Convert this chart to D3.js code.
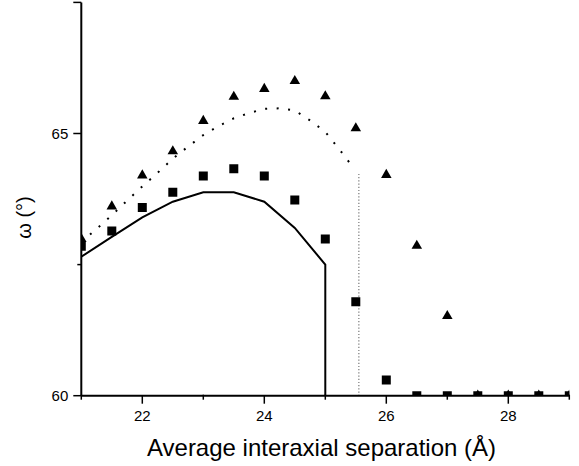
<!DOCTYPE html>
<html>
<head>
<meta charset="utf-8">
<script src="https://cdn.jsdelivr.net/npm/d3@7"></script>
<style>
  html, body { margin: 0; padding: 0; background: #fff; }
  svg { display: block; font-family: "Liberation Sans", Arial, Helvetica, sans-serif; }
</style>
</head>
<body>
<svg id="chart" width="579" height="466"></svg>
<script>
// ---- data ----
const markerX = [21, 21.5, 22, 22.5, 23, 23.5, 24, 24.5, 25, 25.5, 26, 26.5, 27, 27.5, 28, 28.5, 29];
const squareY = [62.85, 63.14, 63.59, 63.88, 64.19, 64.33, 64.19, 63.73, 62.99, 61.79, 60.30, 60, 60, 60, 60, 60, 60];
const triangleY = [62.99, 63.61, 64.20, 64.66, 65.24, 65.70, 65.85, 66.00, 65.71, 65.10, 64.21, 62.86, 61.52, 60, 60, 60, 60];

const solidX = [21, 21.5, 22, 22.5, 23, 23.5, 24, 24.5, 25, 25];
const solidY = [62.65, 63.03, 63.40, 63.70, 63.88, 63.88, 63.70, 63.20, 62.50, 60];

const dottedX = [21, 21.25, 21.5, 21.75, 22, 22.25, 22.5, 22.75, 23, 23.25, 23.5, 23.75, 24, 24.25, 24.5, 24.75, 25, 25.25, 25.47];
const dottedY = [62.93, 63.18, 63.44, 63.72, 63.99, 64.25, 64.52, 64.75, 64.97, 65.14, 65.29, 65.39, 65.47, 65.48, 65.44, 65.25, 65.03, 64.67, 64.33];

const dropX = [25.55, 25.55];
const dropY = [64.23, 60];

const xMajorTicks = [22, 24, 26, 28];
const xMinorTicks = [21, 23, 25, 27, 29];
const yMajorTicks = [60, 65];
const yMinorTicks = [62.5];
const yEndTicks = [67.5];

const xLabel = "Average interaxial separation (Å)";
const yLabel = "ω (°)";

// ---- layout ----
const svg = d3.select("#chart");
const mLeft = 81.3, mRight = 569.3, mTop = 2.4, mBottom = 395.7;
const x = d3.scaleLinear().domain([21, 29]).range([mLeft, mRight]);
const y = d3.scaleLinear().domain([60, 67.5]).range([mBottom, mTop]);

svg.append("defs").append("clipPath").attr("id", "plotclip")
  .append("rect").attr("x", mLeft).attr("y", mTop).attr("width", mRight - mLeft).attr("height", mBottom - mTop);

const plot = svg.append("g").attr("clip-path", "url(#plotclip)");

const line = d3.line().x(d => x(d[0])).y(d => y(d[1]));

// solid curve
plot.append("path")
  .datum(solidX.map((v, i) => [v, solidY[i]]))
  .attr("d", line).attr("fill", "none").attr("stroke", "#000").attr("stroke-width", 2)
  .attr("stroke-linejoin", "miter");

// dotted curve
plot.append("path")
  .datum(dottedX.map((v, i) => [v, dottedY[i]]))
  .attr("d", line).attr("fill", "none").attr("stroke", "#000").attr("stroke-width", 2)
  .attr("stroke-dasharray", "2,9.5");

// vertical gray dotted drop
plot.append("path")
  .datum(dropX.map((v, i) => [v, dropY[i]]))
  .attr("d", line).attr("fill", "none").attr("stroke", "#777").attr("stroke-width", 1.2)
  .attr("stroke-dasharray", "1.2,2");

// markers
const sq = d3.symbol().type(d3.symbolSquare).size(81);
const tri = d3.symbol().type(d3.symbolTriangle).size(48);

plot.selectAll("path.sq").data(markerX.map((v, i) => [v, squareY[i]])).enter()
  .append("path").attr("class", "sq").attr("d", sq)
  .attr("transform", d => `translate(${x(d[0])},${y(d[1])})`).attr("fill", "#000");

plot.selectAll("path.tri").data(markerX.map((v, i) => [v, triangleY[i]])).enter()
  .append("path").attr("class", "tri").attr("d", tri)
  .attr("transform", d => `translate(${x(d[0])},${y(d[1])})`).attr("fill", "#000");

// ---- axes ----
const axisG = svg.append("g");
axisG.append("line").attr("x1", mLeft).attr("x2", mRight).attr("y1", mBottom).attr("y2", mBottom)
  .attr("stroke", "#000").attr("stroke-width", 2);
axisG.append("line").attr("x1", mLeft).attr("x2", mLeft).attr("y1", mTop).attr("y2", mBottom)
  .attr("stroke", "#000").attr("stroke-width", 2);

// x ticks
axisG.selectAll("line.xmaj").data(xMajorTicks).enter().append("line")
  .attr("x1", d => x(d)).attr("x2", d => x(d)).attr("y1", mBottom).attr("y2", mBottom + 8)
  .attr("stroke", "#000").attr("stroke-width", 1.5);
axisG.selectAll("line.xmin").data(xMinorTicks).enter().append("line")
  .attr("x1", d => x(d)).attr("x2", d => x(d)).attr("y1", mBottom - 1).attr("y2", mBottom + 4)
  .attr("stroke", "#000").attr("stroke-width", 1.5);
axisG.selectAll("text.xl").data(xMajorTicks).enter().append("text")
  .attr("x", d => x(d)).attr("y", 420.5).attr("text-anchor", "middle")
  .attr("font-size", 15).text(d => d3.format("d")(d));

// y ticks
axisG.selectAll("line.ymaj").data(yMajorTicks.concat(yEndTicks)).enter().append("line")
  .attr("x1", mLeft - 8).attr("x2", mLeft).attr("y1", d => y(d)).attr("y2", d => y(d))
  .attr("stroke", "#000").attr("stroke-width", 1.5);
axisG.selectAll("line.ymin").data(yMinorTicks).enter().append("line")
  .attr("x1", mLeft - 4).attr("x2", mLeft).attr("y1", d => y(d)).attr("y2", d => y(d))
  .attr("stroke", "#000").attr("stroke-width", 1.5);
axisG.selectAll("text.yl").data(yMajorTicks).enter().append("text")
  .attr("x", mLeft - 13).attr("y", d => y(d) + 5.5).attr("text-anchor", "end")
  .attr("font-size", 15).text(d => d3.format("d")(d));

// axis titles
svg.append("text").attr("x", 321.5).attr("y", 456).attr("text-anchor", "middle")
  .attr("font-size", 24).text(xLabel);
svg.append("text").attr("transform", "translate(31,217.5) rotate(-90)").attr("text-anchor", "middle")
  .attr("font-size", 20).text(yLabel);
</script>
</body>
</html>
